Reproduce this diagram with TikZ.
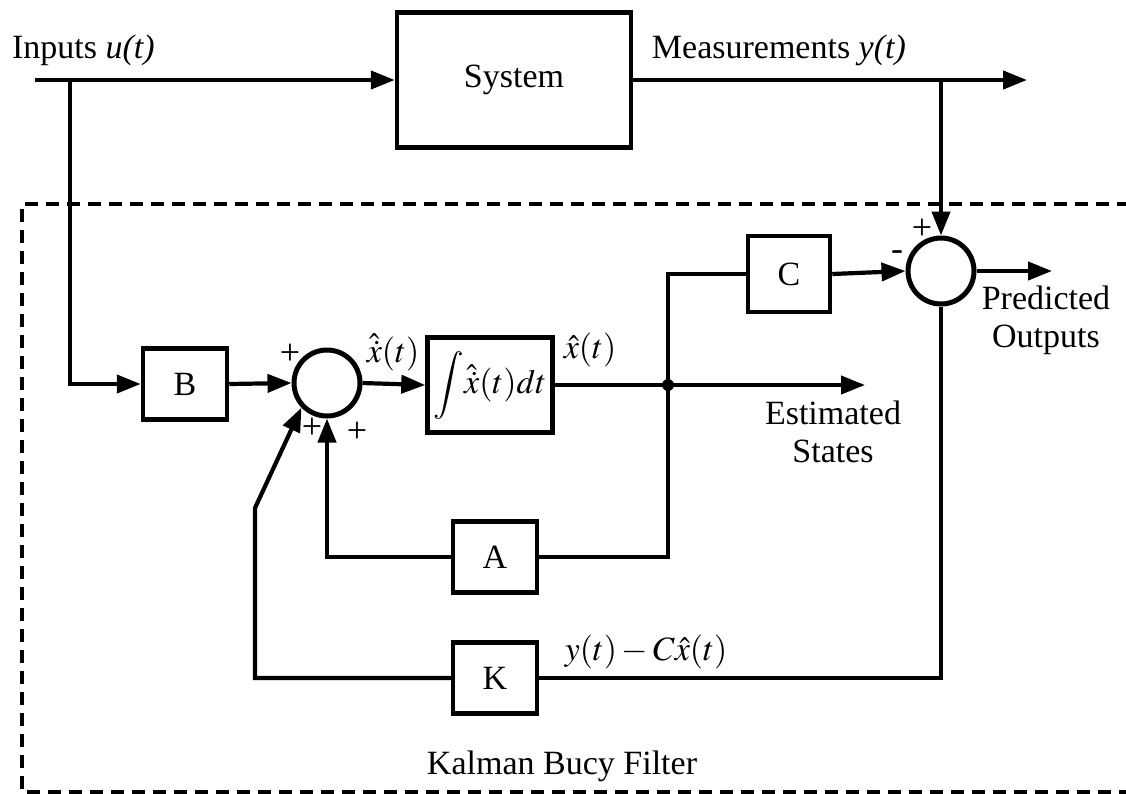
\documentclass[tikz,border=0pt]{standalone}
\usepackage{mathptmx}
\usepackage{fontspec}
\setmainfont{Liberation Serif}
\usetikzlibrary{arrows.meta,calc}
\begin{document}
\begin{tikzpicture}[x=1pt,y=-1pt, line width=4.2pt,
  blk/.style={draw, line width=4.5pt, inner sep=0pt, minimum width=84pt, minimum height=71pt, font=\fontsize{34}{40}\selectfont},
  sumc/.style={draw, circle, line width=5pt, minimum size=66pt, inner sep=0pt},
  arr/.style={-{Triangle[length=24pt,width=18pt]}},
  lbl/.style={font=\fontsize{34}{38}\selectfont, inner sep=0pt},
  sgn/.style={font=\fontsize{36}{40}\selectfont, inner sep=0pt},
  kbf/.style={dash pattern=on 13pt off 8pt, line width=3.2pt}]
\useasboundingbox (0,0) rectangle (1126,793);

% blocks
\node[blk, minimum width=234pt, minimum height=135pt] (sys) at (514,80) {System};
\node[blk] (B) at (185,384) {B};
\node[sumc] (s1) at (327,383) {};
\node[blk, minimum width=125pt, minimum height=95pt] (int) at (490,385) {$\displaystyle\int\!\hat{\dot{x}}(t)dt$};
\node[blk, minimum width=82pt, minimum height=76pt] (C) at (789,274) {C};
\node[sumc] (s2) at (941,271) {};
\node[blk] (A) at (495,557) {A};
\node[blk] (K) at (495,678) {K};

% coordinates
\coordinate (in) at (35,80);
\coordinate (tap) at (70,80);
\coordinate (yout) at (1027,80);
\coordinate (ytap) at (941,80);
\coordinate (j) at (668,385);
\coordinate (est) at (865,385);
\coordinate (pred) at (1052,271);
\coordinate (kc) at (255,508);

% dashed filter boundary
\draw[kbf] (1130,204) -- (22,204) -- (22,792) -- (1130,792);

% connectors
\draw[arr] (in) -- (sys.west);
\draw[arr] (sys.east) -- (yout);
\draw[arr] (ytap) -- (s2.north);
\draw[arr] (tap) |- (B.west);
\draw[arr] (B.east) -- (s1.west);
\draw[arr] (s1.east) -- (int.west);
\draw[arr] (int.east) -- (est);
\fill (j) circle (6pt);
\draw (j) |- (C.west);
\draw[arr] (C.east) -- (s2.west);
\draw[arr] (s2.east) -- (pred);
\draw (j) |- (A.east);
\draw[arr] (A.west) -| (s1.south);
\draw (s2.south) |- (K.east);
\draw[arr] (K.west) -| (kc) -- (s1.224);

% labels
\node[lbl, anchor=west] (tin) at (10,50) {Inputs \textit{u(t)}};
\node[lbl, anchor=east] (tmeas) at (908,50) {Measurements \textit{y(t)}};
\node[lbl] (txd) at (393,352) {$\hat{\dot{x}}(t)$};
\node[lbl] (txh) at (590,350) {$\hat{x}(t)$};
\node[lbl, align=center] (test) at (833,432) {Estimated\\States};
\node[lbl, align=center] (tpred) at (1046,320) {Predicted\\Outputs};
\node[lbl] (terr) at (646,652) {$y(t)-C\hat{x}(t)$};
\node[lbl] (tkbf) at (562,766) {Kalman Bucy Filter};
\node[sgn] (p1) at (290,354) {+};
\node[sgn] (p2) at (312,428) {+};
\node[sgn] (p3) at (357,432) {+};
\node[sgn] (p4) at (922,229) {+};
\node[sgn] (m1) at (897,256) {-};
\end{tikzpicture}
\end{document}
